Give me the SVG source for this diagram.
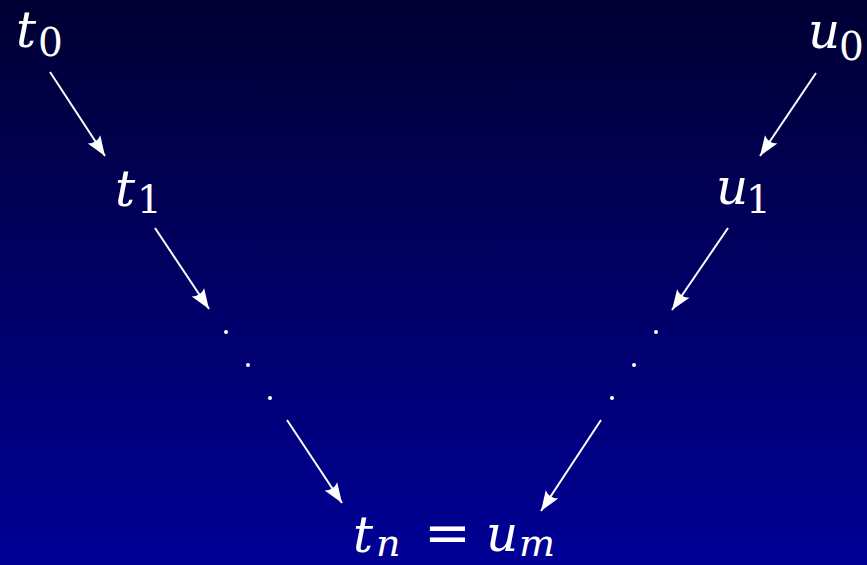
<svg xmlns="http://www.w3.org/2000/svg" width="867" height="565" viewBox="0 0 867 565">
<defs>
<linearGradient id="bg" x1="0" y1="0" x2="0" y2="1">
<stop offset="0" stop-color="#000033"/>
<stop offset="1" stop-color="#000096"/>
</linearGradient>
<marker id="ah" markerUnits="userSpaceOnUse" markerWidth="22" markerHeight="18" viewBox="-21 -9 22 18" refX="0" refY="0" orient="auto">
<path d="M0,0 L-20,-7.5 Q-15,0 -20,7.5 Z" fill="#fff"/>
</marker>
<style>
text{fill:#fff;font-family:"DejaVu Serif",serif}
.m{font-style:italic;font-size:50px}
.s{font-size:39px}
.si{font-style:italic;font-size:38px}
.r{font-size:56px}
.c line{stroke:#fff;stroke-width:2;marker-end:url(#ah)}
.d{fill:#fff}
</style>
</defs>
<rect width="867" height="565" fill="url(#bg)"/>
<g id="t0"><text class="m" x="16" y="47">t</text><text class="s" x="38" y="56">0</text></g>
<g id="t1"><text class="m" x="115" y="206">t</text><text class="s" x="137" y="213">1</text></g>
<g id="u0"><text class="m" x="808" y="48">u</text><text class="s" x="839" y="60">0</text></g>
<g id="u1"><text class="m" x="716" y="204">u</text><text class="s" x="746" y="213">1</text></g>
<g id="tn"><text class="m" x="353" y="552">t</text><text class="si" x="376" y="556">n</text><text class="r" x="424" y="552">=</text><text class="m" x="486" y="551">u</text><text class="si" x="519" y="556">m</text></g>
<g id="dotsL"><circle class="d" cx="226" cy="332" r="2"/><circle class="d" cx="248" cy="365" r="2"/><circle class="d" cx="270" cy="398" r="2"/></g>
<g id="dotsR"><circle class="d" cx="656" cy="332" r="2"/><circle class="d" cx="634" cy="365" r="2"/><circle class="d" cx="612" cy="398" r="2"/></g>
<g id="connectors" class="c">
<line x1="50" y1="72" x2="105" y2="156"/>
<line x1="155" y1="228" x2="209" y2="309"/>
<line x1="287" y1="420" x2="342" y2="503"/>
<line x1="816" y1="73" x2="760" y2="156"/>
<line x1="728" y1="228" x2="672" y2="310"/>
<line x1="601" y1="420" x2="541" y2="511"/>
</g>
</svg>
